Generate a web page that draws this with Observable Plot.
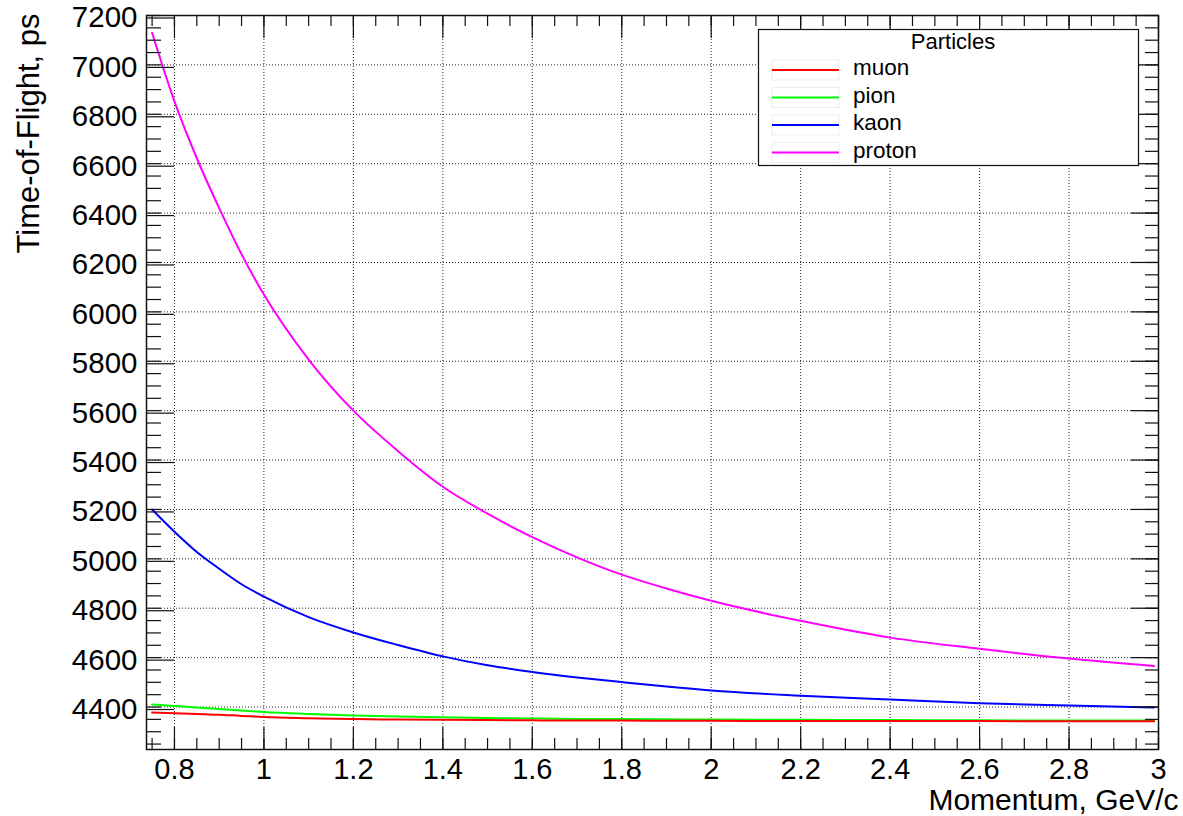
<!DOCTYPE html>
<html>
<head>
<meta charset="utf-8">
<script src="https://cdn.jsdelivr.net/npm/d3@7"></script>
<script src="https://cdn.jsdelivr.net/npm/@observablehq/plot@0.6"></script>
<style>
  html, body { margin: 0; padding: 0; background: #fff; }
  #chart svg { display: block; }
</style>
</head>
<body>
<div id="chart"></div>
<script>
// Momentum samples (GeV/c) shared by every particle curve
const momentum = [0.75, 0.8, 0.85, 0.9, 0.95, 1.0, 1.1, 1.2, 1.3, 1.4, 1.5, 1.6, 1.7, 1.8, 1.9, 2.0, 2.2, 2.4, 2.6, 2.8, 2.99];

// Time-of-flight (ps) for each particle species
const muon   = [4378, 4375, 4372, 4369, 4364, 4360, 4355, 4351, 4349, 4348, 4347, 4346, 4345, 4345, 4344, 4344, 4343, 4343, 4343, 4342, 4342];
const pion   = [4410, 4404, 4398, 4392, 4386, 4380, 4372, 4366, 4362, 4359, 4356, 4354, 4352, 4351, 4350, 4349, 4348, 4347, 4346, 4345, 4345];
const kaon   = [5200, 5110, 5028, 4960, 4897, 4847, 4764, 4702, 4651, 4605, 4569, 4542, 4520, 4501, 4483, 4467, 4446, 4430, 4415, 4406, 4398];
const proton = [7130, 6852, 6622, 6420, 6233, 6070, 5807, 5600, 5436, 5292, 5183, 5088, 5006, 4936, 4880, 4830, 4749, 4681, 4636, 4596, 4566];

// Legend entries and colours
const particleNames  = ["muon", "pion", "kaon", "proton"];
const particleColors = ["#ff0000", "#00ff00", "#0000ff", "#ff00ff"];

// Axis ticks and labels
const xTicks = [0.8, 1, 1.2, 1.4, 1.6, 1.8, 2, 2.2, 2.4, 2.6, 2.8, 3];
const xTickLabels = ["0.8", "1", "1.2", "1.4", "1.6", "1.8", "2", "2.2", "2.4", "2.6", "2.8", "3"];
const yTicks = [4400, 4600, 4800, 5000, 5200, 5400, 5600, 5800, 6000, 6200, 6400, 6600, 6800, 7000, 7200];
const xMinor = d3.range(0.75, 3.0001, 0.05);
const yMinor = d3.range(4250, 7201, 50);

const xTitle = "Momentum, GeV/c";
const yTitle = "Time-of-Flight, ps";
const legendTitle = "Particles";

const series = { muon, pion, kaon, proton };
const curve = (name, color) =>
  Plot.line(series[name], {
    x: (_, i) => momentum[i],
    y: d => d,
    stroke: color,
    strokeWidth: 2,
    curve: "monotone-x"
  });

const noText = () => "";
const tickStroke = { stroke: "#111", strokeWidth: 1.2 };
const fontStack = "'Liberation Sans', Arial, Helvetica, sans-serif";

const chart = Plot.plot({
  width: 1183,
  height: 816,
  marginLeft: 146,
  marginRight: 25,
  marginTop: 15,
  marginBottom: 67,
  style: { fontFamily: fontStack, background: "#fff", color: "#000" },
  x: { domain: [0.7375, 3.0], label: null },
  y: { domain: [4228, 7200], label: null },
  marks: [
    // dotted grid at the major ticks
    Plot.gridX(xTicks, { stroke: "#000", strokeOpacity: 0.85, strokeDasharray: "1,2", strokeWidth: 1 }),
    Plot.gridY(yTicks, { stroke: "#000", strokeOpacity: 0.85, strokeDasharray: "1,2", strokeWidth: 1 }),

    // particle curves (green under red where they coincide)
    curve("pion", particleColors[1]),
    curve("muon", particleColors[0]),
    curve("kaon", particleColors[2]),
    curve("proton", particleColors[3]),

    // inward ticks on all four sides
    Plot.axisX(xMinor, { anchor: "bottom", tickSize: -11, tickFormat: noText, label: null, ...tickStroke }),
    Plot.axisX(xTicks, { anchor: "bottom", tickSize: -22, tickPadding: 22 + 9, label: null, fontSize: 29,
      tickFormat: d => xTickLabels[xTicks.indexOf(d)], ...tickStroke }),
    Plot.axisX(xMinor, { anchor: "top", tickSize: -10, tickFormat: noText, label: null, ...tickStroke }),
    Plot.axisX(xTicks, { anchor: "top", tickSize: -22, tickFormat: noText, label: null, ...tickStroke }),
    Plot.axisY(yMinor, { anchor: "left", tickSize: -15, tickFormat: noText, label: null, ...tickStroke }),
    Plot.axisY(yTicks, { anchor: "left", tickSize: -28, tickPadding: 28 + 9, label: null, fontSize: 29.5,
      dy: 2.5, tickFormat: d => String(d), ...tickStroke }),
    Plot.axisY(yMinor, { anchor: "right", tickSize: -14, tickFormat: noText, label: null, ...tickStroke }),
    Plot.axisY(yTicks, { anchor: "right", tickSize: -28, tickFormat: noText, label: null, ...tickStroke }),

    Plot.frame({ stroke: "#111", strokeWidth: 1.5 }),

    // axis titles
    Plot.text([yTitle], { frameAnchor: "top-left", rotate: -90, textAnchor: "end", lineAnchor: "bottom",
      dx: -108, dy: -2, fontSize: 31, fill: "#000" }),
    Plot.text([xTitle], { frameAnchor: "bottom-right", textAnchor: "end", lineAnchor: "bottom",
      dx: 20, dy: 60, fontSize: 30, fill: "#000" })
  ]
});

document.getElementById("chart").appendChild(chart);

// Legend box in the upper right of the frame
const svg = d3.select(chart);
const lg = svg.append("g").attr("font-family", fontStack);
lg.append("rect")
  .attr("x", 758.5).attr("y", 29.5).attr("width", 380).attr("height", 136)
  .attr("fill", "#fff").attr("stroke", "#111").attr("stroke-width", 1.2);
lg.append("text")
  .attr("x", 953).attr("y", 48.5).attr("text-anchor", "middle")
  .attr("font-size", 22).attr("fill", "#000").text(legendTitle);
const rowBase = [75, 102.5, 130, 157.5];
particleNames.forEach((name, i) => {
  const yl = rowBase[i] - 5;
  lg.append("rect")
    .attr("x", 772).attr("y", yl - 10).attr("width", 67).attr("height", 20)
    .attr("fill", "none").attr("stroke", "#eee").attr("stroke-width", 1);
  lg.append("line")
    .attr("x1", 772).attr("x2", 839).attr("y1", yl).attr("y2", yl)
    .attr("stroke", particleColors[i]).attr("stroke-width", 2);
  lg.append("text")
    .attr("x", 853).attr("y", rowBase[i]).attr("text-anchor", "start")
    .attr("font-size", 22.5).attr("fill", "#000").text(name);
});
</script>
</body>
</html>
